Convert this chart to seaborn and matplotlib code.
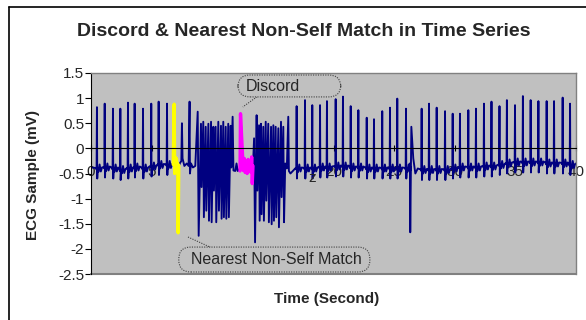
import numpy as np
import pandas as pd
import seaborn as sns
import matplotlib
matplotlib.use("Agg")
from matplotlib import pyplot as plt
from matplotlib.patches import FancyBboxPatch, Polygon
from matplotlib.lines import Line2D

# regular heart beats: R-peak time (s), R height (mV), local baseline (mV)
beats_a_t = [0.49, 1.13, 1.81, 2.42, 3.05, 3.60, 4.29, 4.97, 5.58, 6.27]
beats_a_peak = [0.82, 0.89, 0.79, 0.79, 0.91, 0.89, 0.79, 0.89, 0.93, 0.89]
beats_a_base = [-0.42, -0.40, -0.42, -0.45, -0.42, -0.40, -0.42, -0.38, -0.35, -0.35]

# nearest non-self match (yellow)
match_t = [6.78, 6.86, 6.90, 6.95, 7.00, 7.05, 7.10, 7.15, 7.19, 7.24]
match_v = [-0.32, 0.88, -0.50, -0.18, -0.45, -0.20, -0.47, -0.30, -1.68, -0.35]

# between the match and the first irregular run
gap_a_t = [7.32, 7.45, 7.50, 7.55, 7.70, 7.90, 8.05, 8.13, 8.16, 8.25, 8.40, 8.60]
gap_a_v = [-0.30, -0.25, 0.50, -0.20, -0.35, -0.30, -0.35, 0.93, -0.50, -0.30, -0.38, -0.35]

# first irregular run
chaos1_t = [8.80, 8.88, 9.07, 9.12, 9.26, 9.31, 9.46, 9.51, 9.68, 9.73, 9.90, 9.95,
            10.09, 10.14, 10.28, 10.33, 10.50, 10.55, 10.72, 10.77, 10.91, 10.96,
            11.11, 11.16, 11.32, 11.37, 11.52, 11.57, 11.68, 11.75]
chaos1_v = [0.73, -1.74, 0.49, -0.77, 0.53, -1.37, 0.43, -1.24, 0.49, -1.44, 0.53, -1.47,
            0.43, -0.84, 0.43, -1.47, 0.53, -1.24, 0.45, -1.40, 0.53, -1.37,
            0.43, -1.40, 0.49, -1.37, 0.45, -0.38, 0.63, -0.44]

gap_b_t = [11.90, 12.00, 12.10, 12.20]
gap_b_v = [-0.45, -0.30, -0.45, -0.42]

# discord (magenta)
discord_t = [12.29, 12.33, 12.45, 12.56, 12.64, 12.72, 12.80, 12.88, 12.96, 13.04,
             13.12, 13.20, 13.25, 13.30, 13.36]
discord_v = [-0.45, 0.69, 0.10, -0.44, -0.20, -0.48, -0.25, -0.50, -0.22, -0.46,
             -0.30, -0.48, -0.17, -0.70, -0.35]

# second irregular run
chaos2_t = [13.45, 13.53, 13.66, 13.72, 13.86, 13.91, 14.02, 14.07, 14.21, 14.26,
            14.41, 14.46, 14.62, 14.67, 14.85, 14.90, 15.04, 15.09, 15.23, 15.28,
            15.45, 15.50, 15.67, 15.72, 15.86, 15.92, 16.02, 16.15, 16.27, 16.32, 16.45]
chaos2_v = [0.20, -1.87, 0.66, -0.84, 0.46, -1.44, 0.49, -1.31, 0.43, -1.44,
            0.53, -1.04, 0.49, -1.47, 0.43, -1.51, 0.46, -1.44, 0.43, -1.37,
            0.40, -1.57, 0.53, -0.97, 0.43, -1.47, -0.30, -0.40, 0.63, -0.45, -0.50]

beats_b_t = [16.96, 17.65, 18.25, 18.89, 19.46, 20.18, 20.78, 21.42, 22.05, 22.74,
             23.34, 24.02, 24.66, 25.26, 25.98]
beats_b_peak = [0.84, 0.96, 0.86, 0.86, 0.94, 0.98, 1.03, 0.84, 0.76, 0.61,
                0.58, 0.74, 0.81, 0.99, 0.79]
beats_b_base = [-0.42, -0.42, -0.42, -0.40, -0.40, -0.38, -0.38, -0.40, -0.40, -0.42,
                -0.42, -0.42, -0.42, -0.42, -0.42]

# the odd beat near 26 s
odd_t = [26.25, 26.30, 26.33, 26.42, 26.48, 26.58, 26.75, 26.95]
odd_v = [-0.42, -0.30, -1.67, 0.43, 0.20, -0.20, -0.50, -0.40]

beats_c_t = [27.27, 27.88, 28.51, 29.20, 29.83, 30.43, 31.12, 31.75, 32.41, 33.03,
             33.69, 34.30, 34.97, 35.62, 36.26, 36.90, 37.58, 38.19, 38.90, 39.51]
beats_c_peak = [0.79, 0.89, 0.81, 0.74, 0.69, 0.69, 0.76, 0.79, 0.89, 0.93,
                0.84, 0.96, 0.86, 1.04, 0.96, 0.94, 0.94, 0.94, 1.01, 0.89]
beats_c_base = [-0.45, -0.45, -0.45, -0.45, -0.42, -0.40, -0.40, -0.40, -0.38, -0.38,
                -0.35, -0.32, -0.30, -0.30, -0.30, -0.30, -0.32, -0.32, -0.32, -0.35]

start_v = -0.38
end_v = -0.30

y_ticks = [1.5, 1, 0.5, 0, -0.5, -1, -1.5, -2, -2.5]
y_labels = ["1.5", "1", "0.5", "0", "-0.5", "-1", "-1.5", "-2", "-2.5"]
x_ticks = [0, 5, 10, 15, 20, 25, 30, 35, 40]
x_labels = ["0", "5", "10", "15", "20", "25", "30", "35", "40"]

# shape of one beat around its R peak: (time offset, offset from baseline); None = R peak
beat_shape = [(-0.08, 0.03), (-0.03, 0.0), (0.0, None), (0.025, -0.18), (0.06, 0.02),
              (0.12, -0.05), (0.22, 0.10), (0.32, -0.04), (0.42, 0.04)]


def beats(ts, peaks, bases):
    out_t, out_v = [], []
    for t, p, b in zip(ts, peaks, bases):
        for dt, dv in beat_shape:
            out_t.append(t + dt)
            out_v.append(p if dv is None else b + dv)
    return out_t, out_v


pieces = [([0.0], [start_v]),
          beats(beats_a_t, beats_a_peak, beats_a_base),
          (match_t, match_v), (gap_a_t, gap_a_v), (chaos1_t, chaos1_v),
          (gap_b_t, gap_b_v), (discord_t, discord_v), (chaos2_t, chaos2_v),
          beats(beats_b_t, beats_b_peak, beats_b_base),
          (odd_t, odd_v),
          beats(beats_c_t, beats_c_peak, beats_c_base),
          ([40.0], [end_v])]
series = pd.DataFrame({
    "t": np.concatenate([p[0] for p in pieces]),
    "v": np.concatenate([p[1] for p in pieces]),
})

sns.set_style("white")
plt.rcParams["font.family"] = ["Liberation Sans", "DejaVu Sans"]

fig = plt.figure(figsize=(5.86, 3.2), dpi=100)
ax = fig.add_axes([91 / 586, 1 - 274 / 320, 485 / 586, 201 / 320])
ax.set_facecolor("#C0C0C0")

sns.lineplot(data=series, x="t", y="v", sort=False, estimator=None,
             color="#000080", lw=1.35, ax=ax)
sns.lineplot(x=match_t, y=match_v, sort=False, estimator=None,
             color="#FFFF00", lw=2.4, ax=ax)
sns.lineplot(x=discord_t, y=discord_v, sort=False, estimator=None,
             color="#FF00FF", lw=2.4, ax=ax)

ax.set_xlim(0, 40)
ax.set_ylim(-2.5, 1.5)
ax.set_yticks(y_ticks)
ax.set_yticklabels(y_labels)
ax.set_xticks(x_ticks)
ax.set_xticklabels(x_labels)

for side in ["top", "right"]:
    ax.spines[side].set_color("#808080")
    ax.spines[side].set_linewidth(1.0)
ax.spines["left"].set_color("black")
ax.spines["left"].set_linewidth(0.8)
ax.spines["bottom"].set_position(("data", 0))
ax.spines["bottom"].set_color("black")
ax.spines["bottom"].set_linewidth(0.8)
ax.axhline(-2.5, color="#808080", lw=1.5, clip_on=False)

ax.tick_params(axis="y", direction="out", length=4, width=0.8, pad=1,
               labelsize=11, color="black", left=True)
ax.tick_params(axis="x", direction="inout", length=4, width=0.8, pad=10,
               labelsize=11, color="black", bottom=True)

ax.set_xlabel("Time (Second)", fontsize=11, fontweight="bold")
ax.xaxis.set_label_coords(0.485, -0.09)
ax.set_ylabel("ECG Sample (mV)", fontsize=11, fontweight="bold")
ax.yaxis.set_label_coords(-0.105, 0.495)

fig.text(303.5 / 586, 1 - 31 / 320, "Discord & Nearest Non-Self Match in Time Series",
         ha="center", va="center", fontsize=14, fontweight="bold")

# callouts
call_style = dict(fc="#C0C0C0", ec="#404040", ls=(0, (1, 1.2)), lw=0.8,
                  transform=ax.transAxes, clip_on=False)
ax.add_patch(Polygon([(0.326, 0.885), (0.344, 0.885), (0.313, 0.831)], closed=False,
                     **call_style))
ax.add_patch(FancyBboxPatch((0.303, 0.881), 0.212, 0.109,
                            boxstyle="round,pad=0,rounding_size=0.025",
                            mutation_aspect=2.4, **call_style))
ax.text(0.32, 0.935, "Discord", transform=ax.transAxes, ha="left", va="center",
        fontsize=11.5)

ax.add_patch(Polygon([(0.225, 0.130), (0.249, 0.130), (0.200, 0.184)], closed=False,
                     **call_style))
ax.add_patch(FancyBboxPatch((0.181, 0.010), 0.394, 0.124,
                            boxstyle="round,pad=0,rounding_size=0.025",
                            mutation_aspect=2.4, **call_style))
ax.text(0.206, 0.072, "Nearest Non-Self Match", transform=ax.transAxes,
        ha="left", va="center", fontsize=11.5)
ax.text(0.456, 0.478, "z", transform=ax.transAxes, ha="center", va="center",
        fontsize=11)

# chart frame (only left and top edges fall inside the picture)
fig.add_artist(Line2D([9 / 586, 9 / 586], [0, 1 - 7 / 320], color="black", lw=1.2))
fig.add_artist(Line2D([9 / 586, 1], [1 - 7 / 320, 1 - 7 / 320], color="black", lw=1.2))

fig.savefig("out.png", dpi=100)
